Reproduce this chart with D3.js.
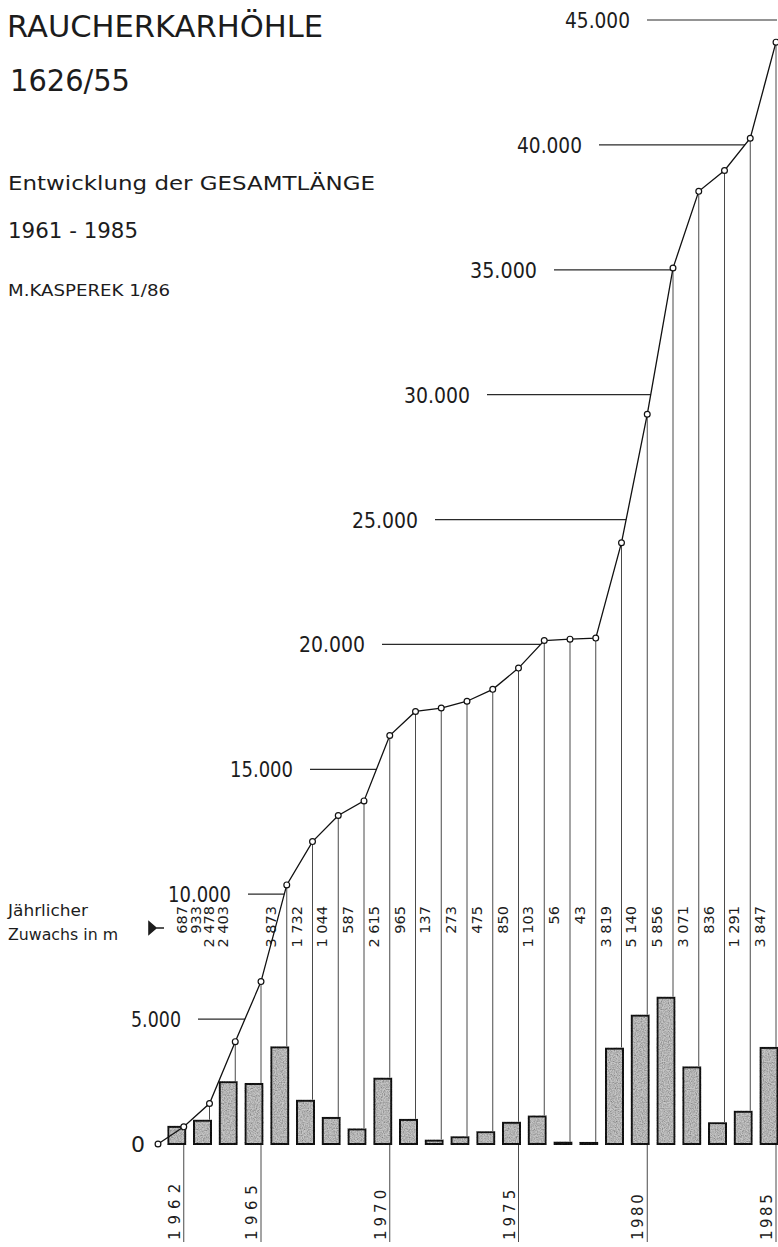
<!DOCTYPE html>
<html><head><meta charset="utf-8">
<script src="https://cdn.jsdelivr.net/npm/d3@7"></script>
<style>
html,body{margin:0;padding:0;background:#fff;}
svg{display:block;}
text{font-family:"DejaVu Sans",sans-serif;fill:#1c1c1c;}
</style></head><body>
<svg id="chart" width="778" height="1247"></svg>
<script>
// ---------------- data ----------------
const years = [1961,1962,1963,1964,1965,1966,1967,1968,1969,1970,1971,1972,1973,
               1974,1975,1976,1977,1978,1979,1980,1981,1982,1983,1984,1985];
const totalLength = [0,687,1620,4098,6501,10374,12106,13150,13737,16352,17317,17454,17727,
                     18202,19052,20155,20211,20254,24073,29213,35069,38140,38976,40267,44114];
const incrementYears = [1962,1963,1964,1965,1966,1967,1968,1969,1970,1971,1972,1973,
                        1974,1975,1976,1977,1978,1979,1980,1981,1982,1983,1984,1985];
const increments = [687,933,2478,2403,3873,1732,1044,587,2615,965,137,273,
                    475,850,1103,56,43,3819,5140,5856,3071,836,1291,3847];
const yTicks = [0,5000,10000,15000,20000,25000,30000,35000,40000,45000];
const yearTickLabels = [1962,1965,1970,1975,1980,1985];
const titleText = "RAUCHERKARHÖHLE";
const caveNumber = "1626/55";
const subtitleA = "Entwicklung der GESAMTLÄNGE";
const subtitleB = "1961 - 1985";
const author = "M.KASPEREK  1/86";
const incLabelA = "Jährlicher";
const incLabelB = "Zuwachs in  m";

// ---------------- layout ----------------
const svg = d3.select("#chart");
const x = d3.scaleLinear().domain([1961,1985]).range([158,776]);
const y = d3.scaleLinear().domain([0,45000]).range([1144,20]);
const de = d3.formatLocale({decimal:",",thousands:".",grouping:[3],currency:["",""]}).format(",");
const sp = d3.formatLocale({decimal:",",thousands:" ",grouping:[3],currency:["",""]}).format(",");
const tickLabelRight = [145,181,231,293,365,418,470,537,582,630];
const tickLabelWidth = [0,50,63,63,66,66,66,67,65,65];
const yearLabelSpacing = [6,5.5,4,4,2.5,2.5];

const defs = svg.append("defs");
const f = defs.append("filter").attr("id","grain").attr("x","-10%").attr("y","-10%")
  .attr("width","120%").attr("height","120%");
f.append("feTurbulence").attr("type","fractalNoise").attr("baseFrequency","0.85")
  .attr("numOctaves",2).attr("seed",4).attr("result","noise");
f.append("feColorMatrix").attr("in","noise").attr("type","saturate").attr("values",0).attr("result","gn");
const ct = f.append("feComponentTransfer").attr("in","gn").attr("result","gs");
["feFuncR","feFuncG","feFuncB"].forEach(n=>ct.append(n).attr("type","linear").attr("slope",1.5).attr("intercept",0.05));
ct.append("feFuncA").attr("type","linear").attr("slope",0).attr("intercept",1);
f.append("feComposite").attr("in","gs").attr("in2","SourceGraphic").attr("operator","in").attr("result","clip");
f.append("feBlend").attr("in","SourceGraphic").attr("in2","clip").attr("mode","multiply");

const g = svg.append("g");

function txt(s, xx, yy, size, len){
  const t = g.append("text").attr("x",xx).attr("y",yy).attr("font-size",size).text(s);
  if(len) t.attr("textLength",len).attr("lengthAdjust","spacingAndGlyphs");
  return t;
}
txt(titleText, 7, 37, 30, 316);
txt(caveNumber, 10, 91, 30, 120);
txt(subtitleA, 8, 190, 20, 367);
txt(subtitleB, 8, 238, 21, 130);
txt(author, 8, 296, 16, 162);
txt(incLabelA, 8, 916, 15, 80);
txt(incLabelB, 8, 940, 15, 110);
g.append("path").attr("d","M149,922 L149,934 L156,928 Z M155,928 L164,928")
  .attr("fill","#1c1c1c").attr("stroke","#1c1c1c").attr("stroke-width",1.6);

function crossX(v){
  for(let i=1;i<totalLength.length;i++){
    if(totalLength[i]>=v){
      const a=totalLength[i-1], b=totalLength[i];
      return x(years[i-1]) + (v-a)/(b-a)*(x(years[i])-x(years[i-1]));
    }
  }
  return 777;
}

yTicks.forEach((v,i)=>{
  const t = g.append("text").attr("x",tickLabelRight[i]).attr("y",y(v)+8)
    .attr("text-anchor","end").attr("font-size",22).text(de(v));
  if(tickLabelWidth[i]) t.attr("textLength",tickLabelWidth[i]).attr("lengthAdjust","spacingAndGlyphs");
  if(v>0){
    g.append("line").attr("x1",tickLabelRight[i]+17).attr("x2",crossX(v))
      .attr("y1",y(v)).attr("y2",y(v)).attr("stroke","#2a2a2a").attr("stroke-width",1.2);
  }
});

years.forEach((yr,i)=>{
  if(i===0) return;
  const long = yearTickLabels.includes(yr);
  g.append("line").attr("x1",x(yr)).attr("x2",x(yr))
    .attr("y1",y(totalLength[i])).attr("y2",long?1242:y(0))
    .attr("stroke","#4a4a4a").attr("stroke-width",1);
});

g.append("g").attr("filter","url(#grain)").selectAll("rect").data(increments).join("rect")
  .attr("x",(d,i)=>x(incrementYears[i])-15.5)
  .attr("width",17)
  .attr("y",d=>y(d))
  .attr("height",d=>Math.max(0.8,y(0)-y(d)))
  .attr("fill","#c6c6c6").attr("stroke","#151515").attr("stroke-width",2);

g.append("g").selectAll("text").data(increments).join("text")
  .attr("transform",(d,i)=>{
    const bx = i<4 ? x(1962)+3.5+i*13.6 : x(incrementYears[i])-11;
    return `translate(${bx},906) rotate(-90)`;
  })
  .attr("text-anchor","end").attr("font-size",14.5).text(d=>sp(d));

g.append("g").selectAll("text").data(yearTickLabels).join("text")
  .attr("transform",d=>`translate(${x(d)-4},1240) rotate(-90)`)
  .attr("font-size",15).attr("letter-spacing",(d,i)=>yearLabelSpacing[i]).text(d=>d);

g.append("path").datum(totalLength)
  .attr("d", d3.line().x((d,i)=>x(years[i])).y(d=>y(d)))
  .attr("fill","none").attr("stroke","#111").attr("stroke-width",1.3);
g.append("g").selectAll("circle").data(totalLength).join("circle")
  .attr("cx",(d,i)=>x(years[i])).attr("cy",d=>y(d)).attr("r",2.9)
  .attr("fill","#fff").attr("stroke","#111").attr("stroke-width",1.2);
</script>
</body></html>
